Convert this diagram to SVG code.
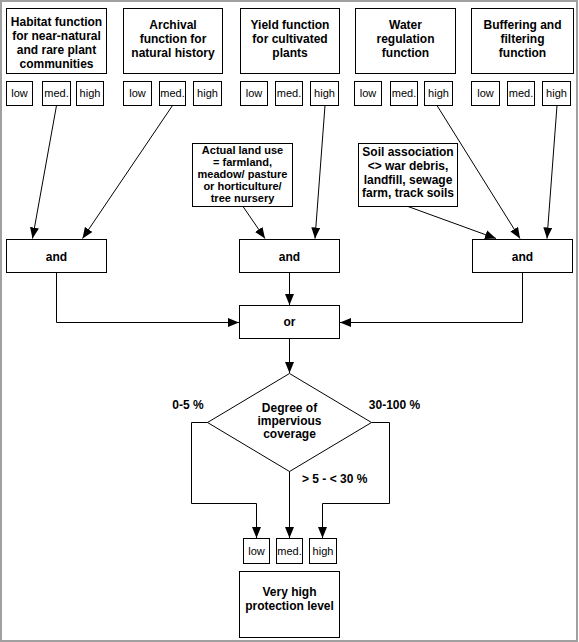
<svg xmlns="http://www.w3.org/2000/svg" width="579" height="642" viewBox="0 0 579 642">
<defs>
<style>
.box{fill:#fff;stroke:#000;stroke-width:1}
.t{font-family:"Liberation Sans",Arial,sans-serif;font-size:12px;font-weight:bold;text-anchor:middle;fill:#000}
.t11{font-family:"Liberation Sans",Arial,sans-serif;font-size:11px;font-weight:bold;text-anchor:middle;fill:#000}
.s{font-family:"Liberation Sans",Arial,sans-serif;font-size:11px;text-anchor:middle;fill:#000}
.c{fill:none;stroke:#000;stroke-width:1}
</style>
<marker id="arr" markerUnits="userSpaceOnUse" markerWidth="12" markerHeight="10" refX="11" refY="5" orient="auto">
<path d="M0,0.5 L11,5 L0,9.5 Z" fill="#000"/>
</marker>
</defs>
<rect x="1" y="1" width="576" height="640" fill="#fff" stroke="#a0a0a0" stroke-width="2"/>

<g id="habitat">
<rect class="box" x="6.5" y="8.5" width="100" height="65"/>
<text class="t" x="56.5" y="25.5">Habitat function</text>
<text class="t" x="56.5" y="39.5">for near-natural</text>
<text class="t" x="56.5" y="53.5">and rare plant</text>
<text class="t" x="56.5" y="67.5">communities</text>
<rect class="box" x="6.5" y="81.5" width="26" height="24"/><text class="s" x="19.5" y="97">low</text>
<rect class="box" x="42.5" y="81.5" width="28" height="24"/><text class="s" x="56.5" y="97">med.</text>
<rect class="box" x="76.5" y="81.5" width="27" height="24"/><text class="s" x="90" y="97">high</text>
</g>
<g id="archival">
<rect class="box" x="123.5" y="8.5" width="99" height="65"/>
<text class="t" x="173" y="29">Archival</text>
<text class="t" x="173" y="43">function for</text>
<text class="t" x="173" y="57">natural history</text>
<rect class="box" x="123.5" y="81.5" width="28" height="24"/><text class="s" x="137.5" y="97">low</text>
<rect class="box" x="159.5" y="81.5" width="26" height="24"/><text class="s" x="172.5" y="97">med.</text>
<rect class="box" x="193.5" y="81.5" width="28" height="24"/><text class="s" x="207.5" y="97">high</text>
</g>
<g id="yield">
<rect class="box" x="240.5" y="8.5" width="99" height="65"/>
<text class="t" x="290" y="29">Yield function</text>
<text class="t" x="290" y="43">for cultivated</text>
<text class="t" x="290" y="57">plants</text>
<rect class="box" x="240.5" y="81.5" width="27" height="24"/><text class="s" x="254" y="97">low</text>
<rect class="box" x="275.5" y="81.5" width="27" height="24"/><text class="s" x="289" y="97">med.</text>
<rect class="box" x="310.5" y="81.5" width="28" height="24"/><text class="s" x="324.5" y="97">high</text>
</g>
<g id="water">
<rect class="box" x="355.5" y="8.5" width="100" height="65"/>
<text class="t" x="405.5" y="29">Water</text>
<text class="t" x="405.5" y="43">regulation</text>
<text class="t" x="405.5" y="57">function</text>
<rect class="box" x="354.5" y="81.5" width="27" height="24"/><text class="s" x="368" y="97">low</text>
<rect class="box" x="390.5" y="81.5" width="27" height="24"/><text class="s" x="404" y="97">med.</text>
<rect class="box" x="424.5" y="81.5" width="28" height="24"/><text class="s" x="438.5" y="97">high</text>
</g>
<g id="buffering">
<rect class="box" x="471.5" y="8.5" width="102" height="65"/>
<text class="t" x="522.5" y="29">Buffering and</text>
<text class="t" x="522.5" y="43">filtering</text>
<text class="t" x="522.5" y="57">function</text>
<rect class="box" x="471.5" y="81.5" width="28" height="24"/><text class="s" x="485.5" y="97">low</text>
<rect class="box" x="507.5" y="81.5" width="27" height="24"/><text class="s" x="521" y="97">med.</text>
<rect class="box" x="542.5" y="81.5" width="28" height="24"/><text class="s" x="556.5" y="97">high</text>
</g>
<g id="landuse">
<rect class="box" x="192.5" y="143.5" width="100" height="63"/>
<text class="t11" x="242.5" y="154">Actual land use</text>
<text class="t11" x="242.5" y="166">= farmland,</text>
<text class="t11" x="242.5" y="178">meadow/ pasture</text>
<text class="t11" x="242.5" y="190">or horticulture/</text>
<text class="t11" x="242.5" y="202">tree nursery</text>
</g>
<g id="soil">
<rect class="box" x="358.5" y="143.5" width="99" height="63"/>
<text class="t" x="408" y="156">Soil association</text>
<text class="t" x="408" y="170">&lt;&gt; war debris,</text>
<text class="t" x="408" y="183.5">landfill, sewage</text>
<text class="t" x="408" y="197">farm, track soils</text>
</g>
<g id="and1"><rect class="box" x="6.5" y="239.5" width="100" height="33"/><text class="t" x="56.5" y="261">and</text></g>
<g id="and2"><rect class="box" x="239.5" y="239.5" width="100" height="33"/><text class="t" x="289.5" y="261">and</text></g>
<g id="and3"><rect class="box" x="472.5" y="239.5" width="100" height="33"/><text class="t" x="522.5" y="261">and</text></g>
<g id="or"><rect class="box" x="239.5" y="305.5" width="100" height="33"/><text class="t" x="289.5" y="326">or</text></g>
<g id="decision">
<path class="box" d="M289.5,373.5 L371.5,422.5 L289.5,471.5 L207.5,422.5 Z"/>
<text class="t" x="289.5" y="411.5">Degree of</text>
<text class="t" x="289.5" y="424.5">impervious</text>
<text class="t" x="289.5" y="438">coverage</text>
</g>
<g id="levels">
<rect class="box" x="243.5" y="538.5" width="26" height="25"/><text class="s" x="256.5" y="555">low</text>
<rect class="box" x="276.5" y="538.5" width="26" height="25"/><text class="s" x="289.5" y="555">med.</text>
<rect class="box" x="309.5" y="538.5" width="27" height="25"/><text class="s" x="323" y="555">high</text>
</g>
<g id="result">
<rect class="box" x="239.5" y="571.5" width="100" height="66"/>
<text class="t" x="289.5" y="596">Very high</text>
<text class="t" x="289.5" y="610">protection level</text>
</g>
<g id="connectors">
<line class="c" x1="56.5" y1="105.5" x2="32.5" y2="238.5" marker-end="url(#arr)"/>
<line class="c" x1="172.5" y1="105.5" x2="82.5" y2="238.5" marker-end="url(#arr)"/>
<line class="c" x1="243" y1="206.5" x2="265" y2="238.5" marker-end="url(#arr)"/>
<line class="c" x1="325" y1="105.5" x2="315" y2="238.5" marker-end="url(#arr)"/>
<line class="c" x1="408" y1="206.5" x2="496" y2="238.5" marker-end="url(#arr)"/>
<line class="c" x1="437" y1="105.5" x2="520" y2="238.5" marker-end="url(#arr)"/>
<line class="c" x1="557" y1="105.5" x2="547" y2="238.5" marker-end="url(#arr)"/>
<path class="c" d="M56.5,272.5 V322.5 H239" marker-end="url(#arr)"/>
<path class="c" d="M289.5,272.5 V305" marker-end="url(#arr)"/>
<path class="c" d="M522.5,272.5 V322.5 H340" marker-end="url(#arr)"/>
<path class="c" d="M289.5,338.5 V373" marker-end="url(#arr)"/>
<path class="c" d="M207.5,422.5 H191.5 V503.5 H256.5 V538" marker-end="url(#arr)"/>
<path class="c" d="M289.5,471.5 V538" marker-end="url(#arr)"/>
<path class="c" d="M371.5,422.5 H389.5 V503.5 H322.5 V538" marker-end="url(#arr)"/>
<text class="t" x="188" y="409">0-5 %</text>
<text class="t" x="394.5" y="409">30-100 %</text>
<text class="t" x="302" y="483" style="text-anchor:start">&gt; 5 - &lt; 30 %</text>
</g>
</svg>
